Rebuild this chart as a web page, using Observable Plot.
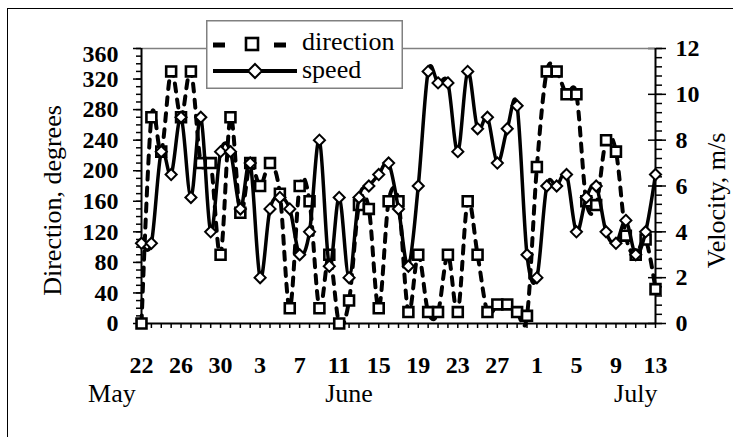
<!DOCTYPE html>
<html>
<head>
<meta charset="utf-8">
<script src="https://cdn.jsdelivr.net/npm/d3@7"></script>
<script src="https://cdn.jsdelivr.net/npm/@observablehq/plot@0.6"></script>
<style>
  body { margin: 0; background: #fff; }
  #wrap { position: relative; width: 733px; height: 437px; overflow: hidden; background: #fff;
          font-family: "Liberation Serif", "Times New Roman", serif; }
  #frame { position: absolute; left: 7px; top: 8px; width: 760px; height: 460px;
           border-left: 1.5px solid #000; border-top: 1.5px solid #000; }
  #chart { position: absolute; left: 0; top: 0; }
  #legend { position: absolute; left: 206px; top: 20px; }
</style>
</head>
<body>
<div id="wrap"><div id="frame"></div><div id="chart"></div><div id="legend"></div></div>
<script>
// ---- data (daily, May 22 – July 13) ----
const startDate = "2003-05-22";
const direction = [0, 270, 225, 330, 270, 330, 210, 210, 90, 270,
                   145, 210, 180, 210, 170, 20, 180, 160, 20, 90,
                   0, 30, 155, 150, 20, 160, 160, 15, 90, 15,
                   15, 90, 15, 160, 90, 15, 25, 25, 15, 10,
                   205, 330, 330, 300, 300, 160, 155, 240, 225, 115,
                   90, 110, 45];
const speed = [3.5, 3.5, 7.5, 6.5, 9.0, 5.5, 9.0, 4.0, 7.5, 7.5,
               5.0, 7.0, 2.0, 5.0, 5.5, 5.0, 3.0, 4.0, 8.0, 2.5,
               5.5, 2.0, 5.5, 6.0, 6.5, 7.0, 5.0, 2.5, 6.0, 11.0,
               10.5, 10.5, 7.5, 11.0, 8.5, 9.0, 7.0, 8.5, 9.5, 3.0,
               2.0, 6.0, 6.0, 6.5, 4.0, 5.5, 6.0, 4.0, 3.5, 4.5,
               3.0, 4.0, 6.5];
const tickDates = ["2003-05-22","2003-05-26","2003-05-30","2003-06-03","2003-06-07",
                   "2003-06-11","2003-06-15","2003-06-19","2003-06-23","2003-06-27",
                   "2003-07-01","2003-07-05","2003-07-09","2003-07-13"];
const monthNames = ["May", "June", "July"];
const monthDates = ["2003-05-19", "2003-06-12", "2003-07-11"];
const dirTicks = [0, 40, 80, 120, 160, 200, 240, 280, 320, 360];
const velTicks = [0, 2, 4, 6, 8, 10, 12];
const seriesNames = ["direction", "speed"];

// ---- build ----
const K = 30; // 12 m/s <-> 360 degrees
const start = d3.isoParse(startDate);
const dates = direction.map((_, i) => d3.utcDay.offset(start, i));
const rows = dates.map((d, i) => ({date: d, dir: direction[i], spd: speed[i]}));
const tDates = tickDates.map(d3.isoParse);
const months = monthNames.map((m, i) => ({label: m, date: d3.isoParse(monthDates[i])}));
const FONT = '"Liberation Serif", "Times New Roman", serif';
const empty = () => "";

const chart = Plot.plot({
  width: 733, height: 437,
  marginLeft: 141, marginRight: 78, marginTop: 48, marginBottom: 114,
  style: {fontFamily: FONT, background: "transparent", color: "#000", overflow: "visible"},
  x: {type: "utc", domain: [dates[0], dates[dates.length - 1]], label: null},
  y: {domain: [0, 360], label: null},
  marks: [
    // left axis
    Plot.axisY(d3.range(0, 361, 10), {anchor: "left", tickSize: 5, strokeWidth: 1.5, tickFormat: empty, label: null}),
    Plot.axisY(dirTicks, {anchor: "left", tickSize: 8, strokeWidth: 1.5, tickFormat: empty, label: null}),
    Plot.axisY(dirTicks.filter(d => d < 360), {anchor: "left", tickSize: 0, tickPadding: 23, fontSize: 24, fontWeight: "bold", label: null}),
    Plot.axisY(dirTicks.filter(d => d === 360), {anchor: "left", tickSize: 0, tickPadding: 23, dy: 6, fontSize: 24, fontWeight: "bold", label: null}),
    // right axis
    Plot.axisY(d3.range(0, 361, 12), {anchor: "right", tickSize: 6, strokeWidth: 1.5, tickFormat: empty, label: null}),
    Plot.axisY(velTicks.map(v => v * K), {anchor: "right", tickSize: 10, strokeWidth: 1.5, tickFormat: empty, label: null}),
    Plot.axisY(velTicks.map(v => v * K), {anchor: "right", tickSize: -8, strokeWidth: 1.5, tickFormat: empty, label: null}),
    Plot.axisY(velTicks.map(v => v * K), {anchor: "right", tickSize: 10, tickPadding: 10, strokeOpacity: 0, tickFormat: d => d / K, fontSize: 24, fontWeight: "bold", label: null}),
    // x axis
    Plot.axisX(dates, {anchor: "bottom", tickSize: 5, strokeWidth: 1.5, tickFormat: empty, label: null}),
    Plot.axisX(tDates, {anchor: "bottom", tickSize: 0, tickPadding: 32, tickFormat: d3.utcFormat("%-d"), fontSize: 24, fontWeight: "bold", label: null}),
    // frame
    Plot.ruleY([360], {stroke: "#808080", strokeWidth: 1.5}),
    Plot.ruleX([dates[0]], {stroke: "#000", strokeWidth: 2}),
    Plot.ruleX([dates[dates.length - 1]], {stroke: "#000", strokeWidth: 2}),
    Plot.ruleY([0], {stroke: "#000", strokeWidth: 2}),
    // direction series
    Plot.line(rows, {x: "date", y: "dir", curve: "cardinal", stroke: "#000", strokeWidth: 4, strokeDasharray: "8,8"}),
    Plot.dot(rows, {x: "date", y: "dir", symbol: "square", r: 5.6, stroke: "#000", fill: "#fff", strokeWidth: 2.6}),
    // speed series
    Plot.line(rows, {x: "date", y: d => d.spd * K, curve: "cardinal", stroke: "#000", strokeWidth: 3.5}),
    Plot.dot(rows, {x: "date", y: d => d.spd * K, symbol: "diamond2", r: 5, stroke: "#000", fill: "#fff", strokeWidth: 2}),
    // month labels
    Plot.text(months, {x: "date", text: "label", frameAnchor: "bottom", dy: 78, lineAnchor: "bottom", fontSize: 26}),
    // axis titles
    Plot.text(["Direction, degrees"], {frameAnchor: "left", textAnchor: "middle", dx: -81, dy: 14.5, rotate: -90, lineAnchor: "bottom", fontSize: 26}),
    Plot.text(["Velocity, m/s"], {frameAnchor: "right", textAnchor: "middle", dx: 69, dy: 14.5, rotate: -90, lineAnchor: "bottom", fontSize: 26})
  ]
});
document.getElementById("chart").appendChild(chart);

// ---- legend ----
const lg = d3.select("#legend").append("svg").attr("width", 198).attr("height", 70)
  .style("font-family", FONT);
lg.append("rect").attr("x", 0.75).attr("y", 0.75).attr("width", 195.5).attr("height", 67.5)
  .attr("fill", "#fff").attr("stroke", "#808080").attr("stroke-width", 1.5);
// direction entry
lg.append("line").attr("x1", 7).attr("x2", 19).attr("y1", 25).attr("y2", 25).attr("stroke", "#000").attr("stroke-width", 5);
lg.append("line").attr("x1", 68).attr("x2", 80).attr("y1", 25).attr("y2", 25).attr("stroke", "#000").attr("stroke-width", 5);
lg.append("rect").attr("x", 40).attr("y", 18).attr("width", 12).attr("height", 12)
  .attr("fill", "#fff").attr("stroke", "#000").attr("stroke-width", 2.6);
lg.append("text").attr("x", 96).attr("y", 30).attr("font-size", 26).text(seriesNames[0]);
// speed entry
lg.append("line").attr("x1", 7).attr("x2", 91).attr("y1", 51).attr("y2", 51).attr("stroke", "#000").attr("stroke-width", 4);
lg.append("path").attr("d", "M49,44L56,51L49,58L42,51Z")
  .attr("fill", "#fff").attr("stroke", "#000").attr("stroke-width", 2);
lg.append("text").attr("x", 96).attr("y", 58).attr("font-size", 26).text(seriesNames[1]);
</script>
</body>
</html>
